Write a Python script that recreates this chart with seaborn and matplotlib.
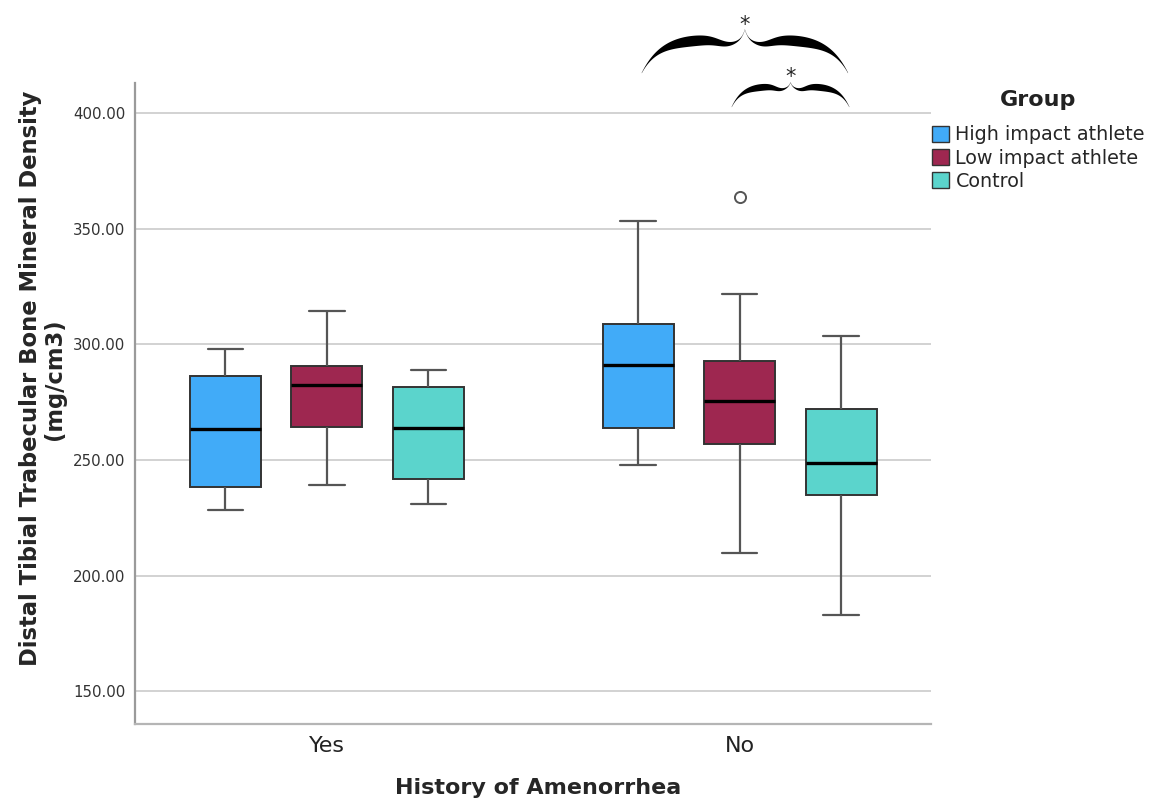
import numpy as np
import pandas as pd
import seaborn as sns
import matplotlib.pyplot as plt
from matplotlib.patches import Patch
from matplotlib.ticker import FormatStrFormatter

# categories
amenorrhea = ['Yes', 'No']
groups = ['High impact athlete', 'Low impact athlete', 'Control']
colors = ['#41ABF8', '#9E2750', '#5BD4CC']

# box summaries, order: Yes x groups, then No x groups
whisker_lo = [228.2, 239.2, 231.1, 247.7, 209.7, 183.0]
q1 = [238.5, 264.2, 241.6, 263.8, 256.8, 234.8]
median = [263.5, 282.6, 263.8, 291.2, 275.5, 248.7]
q3 = [286.2, 290.8, 281.7, 308.8, 292.8, 272.0]
whisker_hi = [298.1, 314.3, 288.8, 353.5, 321.7, 303.6]
outliers = [None, None, None, None, 363.6, None]

# long table whose quartiles (9 points, linear percentiles) give the summaries above
rows = []
i = 0
for amen in amenorrhea:
    for grp in groups:
        extra = outliers[i] if outliers[i] is not None else whisker_hi[i]
        pts = [whisker_lo[i], q1[i], q1[i], median[i], median[i], q3[i], q3[i], whisker_hi[i], extra]
        for v in pts:
            rows.append((amen, grp, v))
        i += 1
df = pd.DataFrame(rows, columns=['amen', 'group', 'bmd'])

sns.set_style('white')
plt.rcParams['font.family'] = ['DejaVu Sans']

fig = plt.figure(figsize=(11.5, 8), dpi=100)
ax = fig.add_axes([0.1174, 0.0956, 0.6922, 0.801])
ax.yaxis.grid(True, color='#cfcfcf', lw=1.3)
ax.set_axisbelow(True)

sns.boxplot(data=df, x='amen', y='bmd', hue='group', order=amenorrhea, hue_order=groups,
            palette=colors, saturation=1, width=0.7375, gap=0.3, linewidth=1.4, linecolor='#333333',
            medianprops=dict(color='black', linewidth=2.4),
            whiskerprops=dict(color='#555555', linewidth=1.6),
            capprops=dict(color='#555555', linewidth=1.6),
            flierprops=dict(marker='o', markerfacecolor='white', markeredgecolor='#555555',
                            markersize=8, markeredgewidth=1.4),
            legend=False, ax=ax)

ax.set_xlim(-0.4645, 1.4633)
ax.set_ylim(136, 413.2)
ax.set_yticks([150, 200, 250, 300, 350, 400])
ax.yaxis.set_major_formatter(FormatStrFormatter('%.2f'))
ax.tick_params(axis='y', length=0, pad=7, labelsize=10.8, labelcolor='#333333')
ax.tick_params(axis='x', length=0, pad=9, labelsize=16, labelcolor='#222222')

for s in ['top', 'right']:
    ax.spines[s].set_visible(False)
ax.spines['left'].set_color('#9a9a9a')
ax.spines['left'].set_linewidth(1.6)
ax.spines['bottom'].set_color('#b5b5b5')
ax.spines['bottom'].set_linewidth(1.6)

ax.set_ylabel('Distal Tibial Trabecular Bone Mineral Density\n(mg/cm3)', fontsize=16.3,
              fontweight='bold', linespacing=1.05)
ax.yaxis.set_label_coords(-0.087, 0.538)
ax.set_xlabel('History of Amenorrhea', fontsize=16, fontweight='bold', va='top')
ax.xaxis.set_label_coords(0.506, -0.085)


def brace(ax, x0, x1, y_end, y_arm, y_tip, thick, dip):
    # filled curly brace, wavy arms that are thick in the middle
    xm = (x0 + x1) / 2
    s = np.linspace(0, 1, 300)
    yc = (y_end + (y_arm - y_end) * (1 - np.exp(-s / 0.17))
          - dip * np.exp(-((s - 0.84) / 0.14) ** 2))
    yc = yc + (y_tip - yc[-1]) * np.exp(-(1 - s) / 0.035)
    w = thick * np.sin(np.pi * np.clip(s * 1.02, 0, 1)) ** 1.2 + 0.25
    xl = x0 + s * (xm - x0)
    xr = x1 - s * (x1 - xm)
    up_x = np.concatenate([xl, xr[::-1]])
    up_y = np.concatenate([yc + w / 2, (yc + w / 2)[::-1]])
    lo_x = np.concatenate([xr, xl[::-1]])
    lo_y = np.concatenate([yc - w / 2, (yc - w / 2)[::-1]])
    ax.fill(np.concatenate([up_x, lo_x]), np.concatenate([up_y, lo_y]),
            color='black', lw=0, clip_on=False, zorder=5)


brace(ax, 0.7627, 1.2623, 417.4, 432.0, 436.2, 4.3, 2.0)
brace(ax, 0.9806, 1.2654, 402.7, 411.6, 413.3, 2.7, 1.3)
ax.text(1.0111, 434.0, '*', ha='center', va='bottom', fontsize=15, clip_on=False)
ax.text(1.1242, 411.5, '*', ha='center', va='bottom', fontsize=15, clip_on=False)

fig.text(1038 / 1150, 1 - 100 / 800, 'Group', ha='center', va='center',
         fontsize=16, fontweight='bold', color='#222222')
handles = [Patch(facecolor=c, edgecolor='#333333', lw=1) for c in colors]
fig.legend(handles, groups, loc='upper left', bbox_to_anchor=(0.810, 1 - 125.5 / 800),
           frameon=False, fontsize=13.8,
           handlelength=0.9, handleheight=0.9, handletextpad=0.35, labelspacing=0.22,
           borderpad=0, borderaxespad=0)

plt.savefig('out.png', dpi=100)
